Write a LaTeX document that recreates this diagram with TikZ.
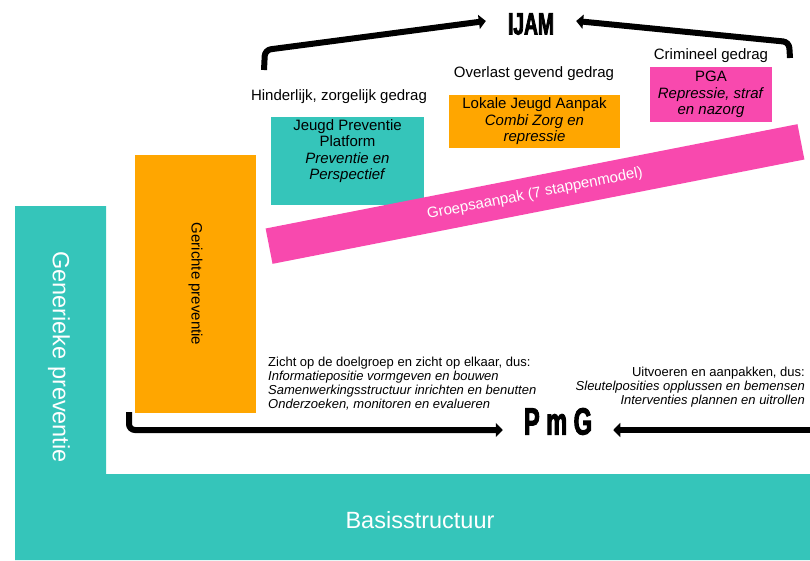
\documentclass[tikz,border=0pt]{standalone}
\usepackage{fontspec}
\setmainfont{Liberation Sans}
\newfontfamily\heavyfont{Liberation Sans}[FakeStretch=0.62, BoldFeatures={FakeBold=2.5}]
\usetikzlibrary{arrows.meta}
\definecolor{gpteal}{HTML}{35C5BA}
\definecolor{gporange}{HTML}{FFA600}
\definecolor{gppink}{HTML}{F849AE}
\newcommand{\fsz}[2]{\fontsize{#1}{#2}\selectfont}
\begin{document}
\begin{tikzpicture}[x=1pt,y=-1pt,
  conn/.style={line width=6pt, line cap=butt, rounded corners=6pt, -{Triangle[length=7pt,width=14pt]}},
  txt/.style={inner sep=0pt, align=center, font=\fsz{15}{16.5}},
  small/.style={inner sep=0pt, font=\fsz{13}{14}},
  big/.style={inner sep=0pt, text=white, font=\fsz{23.5}{26}},
  title/.style={inner ysep=0pt},
]
\useasboundingbox (0,0) rectangle (810,560);
% basis structure (L shape)
\fill[gpteal] (15,206) -- (106,206) -- (106,474) -- (810,474) -- (810,560) -- (15,560) -- cycle;
\node[big, rotate=-90] (generiek) at (59,357) {Generieke preventie};
\node[big] (basis) at (420,520) {Basisstructuur};
% gerichte preventie
\node[fill=gporange, rotate=-90, minimum width=258, minimum height=121, inner sep=0pt, font=\fsz{15}{16}] (gericht) at (195.5,284) {Gerichte preventie};
% boxes
\node[fill=gpteal, minimum width=153, minimum height=88, inner sep=0pt] (jpp) at (347.5,161) {};
\node[txt, anchor=north] (jpptxt) at (347.5,119) {Jeugd Preventie\\Platform\\\textit{Preventie en}\\\textit{Perspectief}};
\node[txt, fill=gporange, minimum width=171, minimum height=53] (lja) at (534.5,121.5) {Lokale Jeugd Aanpak\\\textit{Combi Zorg en}\\\textit{repressie}};
\node[txt, fill=gppink, minimum width=122, minimum height=55] (pga) at (711,94.5) {PGA\\\textit{Repressie, straf}\\\textit{en nazorg}};
% labels
\node[txt] (hind) at (339,97) {Hinderlijk, zorgelijk gedrag};
\node[txt] (overl) at (534,74) {Overlast gevend gedrag};
\node[txt] (crim) at (711,56) {Crimineel gedrag};
% band
\node[fill=gppink, rotate=11.1, minimum width=542, minimum height=36, inner sep=0pt, text=white, font=\fsz{15}{16}] (groep) at (535,194) {Groepsaanpak (7 stappenmodel)};
% IJAM
\node[title, inner xsep=22pt, font={\heavyfont\bfseries\fsz{31}{31}}] (ijam) at (531,24) {IJAM};
\coordinate (ls) at (264,70);
\coordinate (lc) at (265,50);
\coordinate (rs) at (790,58);
\coordinate (rc) at (789,42);
\draw[conn] (ls) -- (lc) -- ([yshift=3pt]ijam.west);
\draw[conn] (rs) -- (rc) -- ([yshift=3pt]ijam.east);
% PmG
\node[title, inner xsep=21pt, font={\heavyfont\bfseries\fsz{38}{38}}] (pmg) at (558,421.5) {P m G};
\coordinate (bls) at (129,412);
\coordinate (blc) at (129,430);
\coordinate (brs) at (810,430);
\draw[conn] (bls) -- (blc) -- ([yshift=-8.5pt]pmg.west);
\draw[conn] (brs) -- ([yshift=-8.5pt]pmg.east);
% texts
\node[small, align=left, anchor=north west] (zicht) at (268,357) {Zicht op de doelgroep en zicht op elkaar, dus:\\\textit{Informatiepositie vormgeven en bouwen}\\\textit{Samenwerkingsstructuur inrichten en benutten}\\\textit{Onderzoeken, monitoren en evalueren}};
\node[small, align=right, anchor=north east] (uitv) at (805,367) {Uitvoeren en aanpakken, dus:\\\textit{Sleutelposities opplussen en bemensen}\\\textit{Interventies plannen en uitrollen}};
\end{tikzpicture}
\end{document}
